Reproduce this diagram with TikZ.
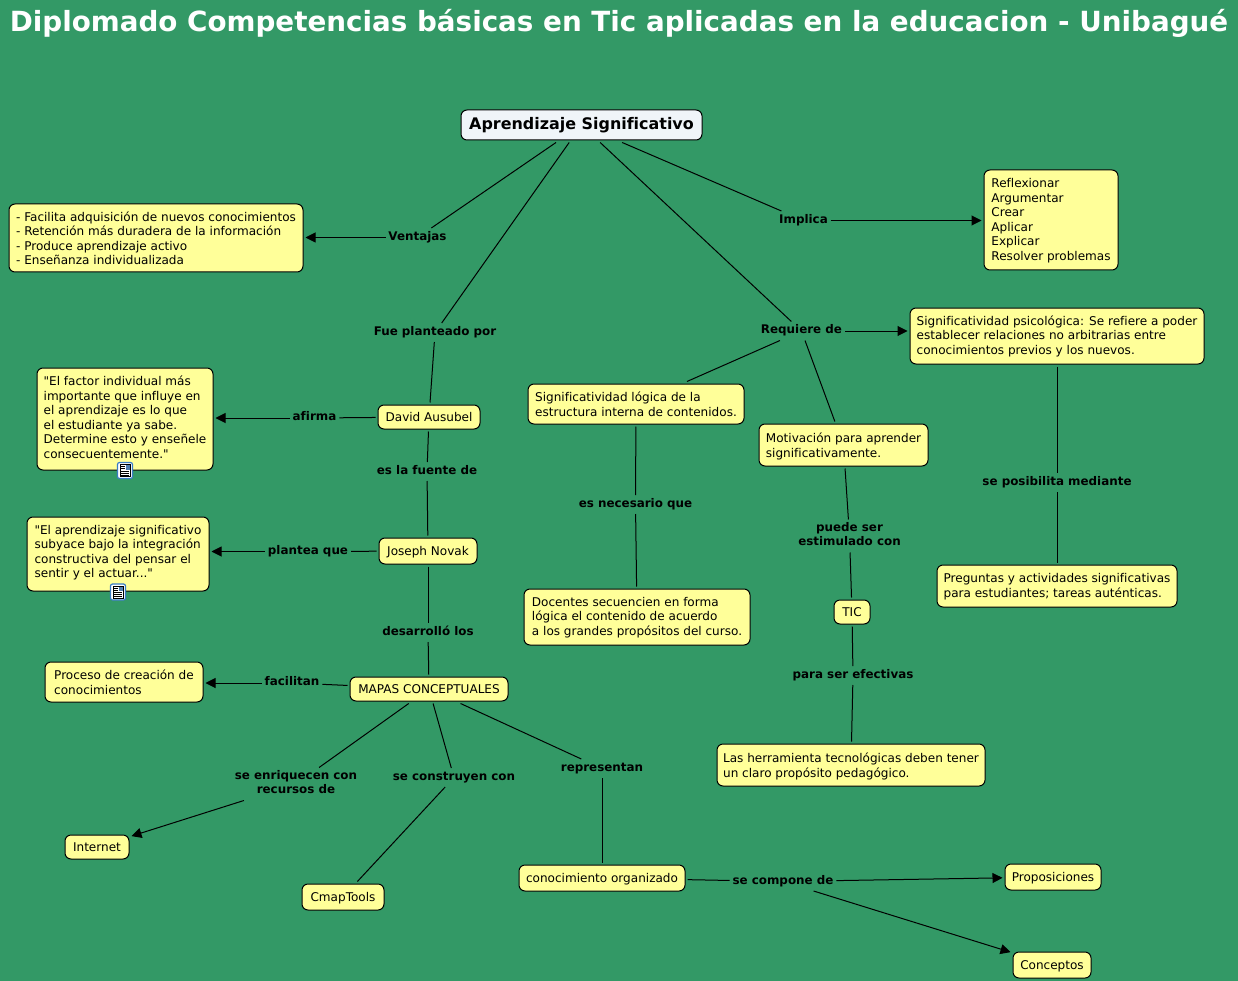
\documentclass[tikz,border=0pt]{standalone}
\usepackage{fontspec}
\newfontfamily\dvs[Ligatures=NoCommon]{DejaVu Sans}
\usetikzlibrary{arrows.meta}
\definecolor{bgc}{HTML}{339966}
\definecolor{boxc}{HTML}{FFFF99}
\definecolor{rootc}{HTML}{F0F5F9}
\definecolor{iconc}{HTML}{3A7CC4}
\tikzset{
 concept/.style={draw=black,line width=1pt,fill=boxc,rounded corners=6pt,inner sep=0pt,outer sep=2.5pt,font=\dvs\fontsize{12.05}{14.6}\selectfont},
 rootbox/.style={concept,fill=rootc,font=\dvs\bfseries\fontsize{15.93}{18}\selectfont},
 linklab/.style={inner xsep=1.5pt,inner ysep=1pt,outer sep=1.5pt,font=\dvs\bfseries\fontsize{11.9}{14}\selectfont},
 conn/.style={line width=1pt,draw=black},
 arr/.style={conn,-{Triangle[length=10pt,width=10pt]}},
 iconbox/.style={draw=iconc,line width=1.2pt,fill=white,rounded corners=2pt,minimum width=15pt,minimum height=16pt,inner sep=0pt}
}
\newcommand{\boxkern}{4pt}
\newcommand{\cbox}[7][concept]{\node[#1,minimum width={(#5-#3)*1pt},minimum height={(#6-#4)*1pt}] (#2) at ({(#3+#5)/2*1pt},{-(#4+#6)/2*1pt}) {\vbox{\kern\boxkern\hbox{\begin{tabular}{@{}l@{}}#7\end{tabular}}}};}
\newcommand{\lab}[4]{\node[linklab] (#1) at ({#2*1pt},{-(#3+1.5)*1pt}) {\begin{tabular}{@{}c@{}}#4\end{tabular}};}
\newcommand{\docicon}[3]{\node[iconbox] (#1) at ({#2*1pt},{-#3*1pt}) {};
 \draw[black,line width=.8pt,fill=white] ({(#2-5)*1pt},{-(#3-6)*1pt}) rectangle ({(#2+5)*1pt},{-(#3+6)*1pt});
 \fill[iconc!70!gray] ({(#2+.5)*1pt},{-(#3-5.5)*1pt}) rectangle ({(#2+4.5)*1pt},{-(#3-1)*1pt});
 \foreach \yy/\xx in {-4/0,-2/0,0.5/4,2.5/4,4.5/4}{\draw[black,line width=.7pt] ({(#2-4)*1pt},{-(#3+\yy)*1pt}) -- ({(#2+\xx)*1pt},{-(#3+\yy)*1pt});}}
\begin{document}
\begin{tikzpicture}[x=1pt,y=1pt]
\path[use as bounding box,fill=bgc] (0,0) rectangle (1238pt,-981pt);
\node[text=white,inner sep=0pt,font=\dvs\bfseries\fontsize{27.77}{30}\selectfont] (title) at (619pt,-23pt) {Diplomado Competencias básicas en Tic aplicadas en la educacion - Unibagué};

\cbox{vent}{9}{204}{303}{272}{- Facilita adquisición de nuevos conocimientos\\- Retención más duradera de la información\\- Produce aprendizaje activo\\- Enseñanza individualizada}
\cbox{logi}{528}{384}{744}{424}{Significatividad lógica de la\\estructura interna de contenidos.}
\cbox{moti}{759}{424}{928}{466}{Motivación para aprender\\significativamente.}
\cbox{david}{378}{405}{480}{429}{David Ausubel}
\cbox{joseph}{379}{538}{477}{564}{Joseph Novak}
\cbox{tic}{834}{600}{870}{624}{TIC}
\cbox{proc}{45}{662}{203}{702}{Proceso de creación de\\conocimientos}
\cbox{mapas}{350}{677}{508}{701}{MAPAS CONCEPTUALES}
\cbox{herr}{717}{744}{985}{786}{Las herramienta tecnológicas deben tener\\un claro propósito pedagógico.}
\cbox{inter}{65}{835}{129}{859}{Internet}
\cbox{cmap}{302}{884}{384}{910}{CmapTools}
\cbox{cono}{519}{865}{685}{891}{conocimiento organizado}
\cbox{prop}{1005}{864}{1101}{890}{Proposiciones}
\cbox{conc}{1013}{952}{1091}{978}{Conceptos}
\renewcommand{\boxkern}{2pt}
\cbox[rootbox]{root}{461}{110}{702}{140}{Aprendizaje Significativo}
\cbox{refl}{984}{170}{1118}{270}{Reflexionar\\Argumentar\\Crear\\Aplicar\\Explicar\\Resolver problemas}
\cbox{psic}{910}{308}{1204}{364}{Significatividad psicológica: Se refiere a poder\\establecer relaciones no arbitrarias entre\\conocimientos previos y los nuevos.}
\cbox{doce}{524}{589}{750}{645}{Docentes secuencien en forma\\lógica el contenido de acuerdo\\a los grandes propósitos del curso.}
\cbox{preg}{937}{565}{1177}{607}{Preguntas y actividades significativas\\para estudiantes; tareas auténticas.}
\renewcommand{\boxkern}{0pt}
\cbox{quoa}{37}{368}{213}{470}{"El factor individual más\\importante que influye en\\el aprendizaje es lo que\\el estudiante ya sabe.\\Determine esto y enseñele\\consecuentemente."}
\renewcommand{\boxkern}{-2pt}
\cbox{quob}{27}{517}{209}{591}{"El aprendizaje significativo\\subyace bajo la integración\\constructiva del pensar el\\sentir y el actuar..."}

\docicon{icona}{125}{470.5}
\docicon{iconb}{118}{592}

\lab{lvent}{417.5}{236}{Ventajas}
\lab{lfue}{435}{331}{Fue planteado por}
\lab{limp}{803.5}{219}{Implica}
\lab{lreq}{801.5}{329.5}{Requiere de}
\lab{lafi}{314.5}{416.5}{afirma}
\lab{lfte}{427}{470}{es la fuente de}
\lab{lpla}{308}{550}{plantea que}
\lab{ldes}{428}{631}{desarrolló los}
\lab{lfac}{292}{681.5}{facilitan}
\lab{lnec}{635.5}{503}{es necesario que}
\lab{lpos}{1057}{481}{se posibilita mediante}
\lab{lpue}{849.5}{534.5}{puede ser\\estimulado con}
\lab{lefe}{853}{674}{para ser efectivas}
\lab{lenr}{296}{782.5}{se enriquecen con\\recursos de}
\lab{lcon}{454}{776}{se construyen con}
\lab{lrep}{602}{767}{representan}
\lab{lcom}{783}{880}{se compone de}

\draw[conn] (root) -- (lvent);
\draw[arr] (lvent) -- (lvent -| vent.east);
\draw[conn] (root) -- (lfue);
\draw[conn] (lfue) -- (david);
\draw[conn] (root) -- (lreq);
\draw[conn] (root) -- (limp);
\draw[arr] (limp) -- (limp -| refl.west);
\draw[arr] (lreq) -- (lreq -| psic.west);
\draw[conn] (lreq) -- (logi);
\draw[conn] (lreq) -- (moti);
\draw[conn] (david) -- (lafi);
\draw[arr] (lafi) -- (lafi -| quoa.east);
\draw[conn] (david) -- (lfte);
\draw[conn] (lfte) -- (joseph);
\draw[conn] (joseph) -- (lpla);
\draw[arr] (lpla) -- (lpla -| quob.east);
\draw[conn] (joseph) -- (ldes);
\draw[conn] (ldes) -- (mapas);
\draw[conn] (mapas) -- (lfac);
\draw[arr] (lfac) -- (lfac -| proc.east);
\draw[conn] (logi) -- (lnec);
\draw[conn] (lnec) -- (doce);
\draw[conn] (psic) -- (lpos);
\draw[conn] (lpos) -- (preg);
\draw[conn] (moti) -- (lpue);
\draw[conn] (lpue) -- (tic);
\draw[conn] (tic) -- (lefe);
\draw[conn] (lefe) -- (herr);
\draw[conn] (mapas) -- (lenr);
\draw[arr] (lenr) -- (inter);
\draw[conn] (mapas) -- (lcon);
\draw[conn] (lcon) -- (cmap);
\draw[conn] (mapas) -- (lrep);
\draw[conn] (lrep) -- (cono);
\draw[conn] (cono) -- (lcom);
\draw[arr] (lcom) -- (prop);
\draw[arr] (lcom) -- (conc);
\end{tikzpicture}
\end{document}
